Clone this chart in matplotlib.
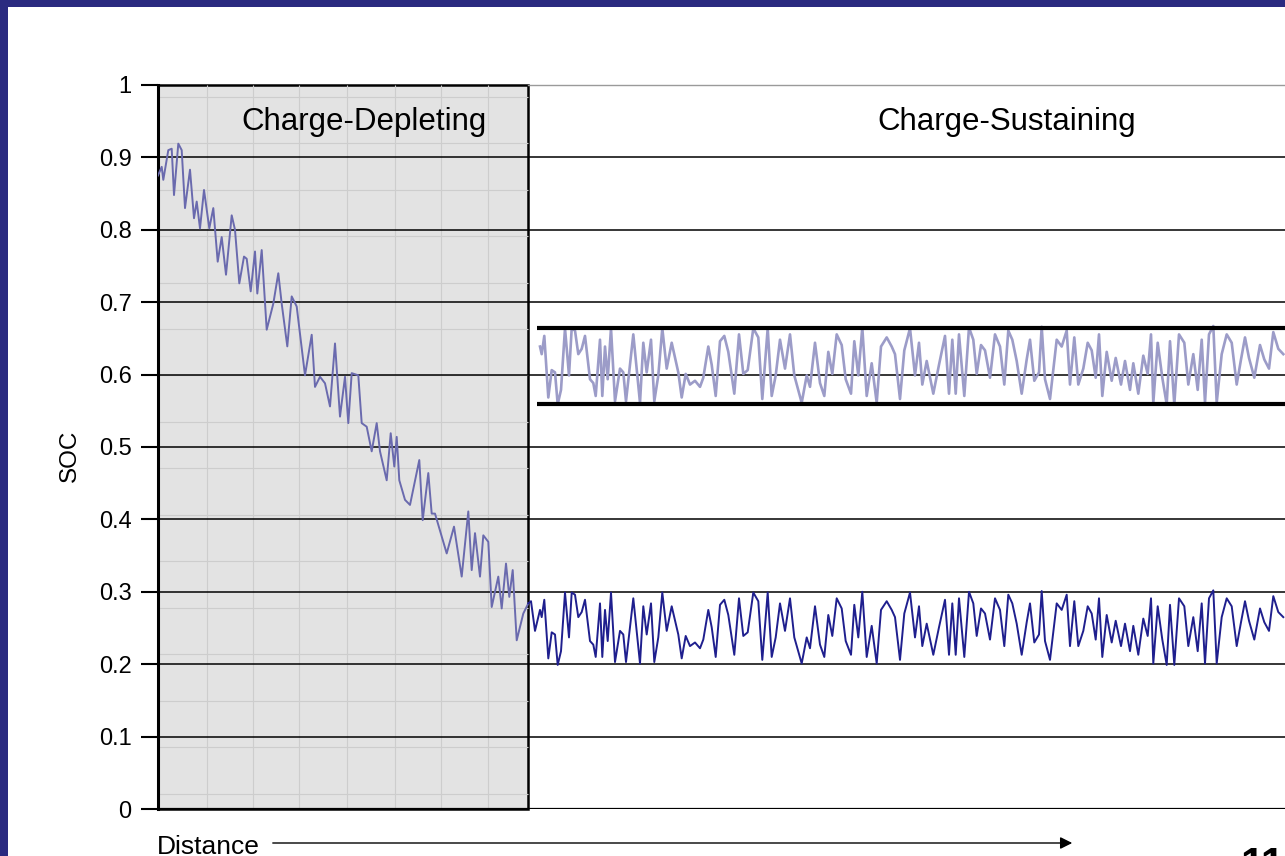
import numpy as np
import matplotlib
matplotlib.use('Agg')
import matplotlib.pyplot as plt
from matplotlib.patches import Rectangle

plt.rcParams['font.family'] = ['Liberation Sans', 'DejaVu Sans']

# charge-depleting part (distance in arbitrary km, SOC 0..1)
cd_km = [0.0, 0.37, 0.53, 1.03, 1.37, 1.6, 2.03, 2.37, 2.7, 3.2, 3.6, 3.87, 4.2, 4.6, 5.13, 5.53,
         5.97, 6.37, 6.8, 7.37, 7.7, 8.13, 8.6, 8.87, 9.27, 9.7, 9.93, 10.37, 10.87, 11.53, 12.03,
         12.37, 12.93, 13.37, 13.87, 14.7, 15.37, 15.7, 16.2, 16.7, 17.2, 17.7, 18.2, 18.7, 19.03,
         19.37, 20.03, 20.37, 20.87, 21.37, 21.87, 22.2, 22.87, 23.27, 23.63, 23.87, 24.13, 24.7,
         25.2, 26.13, 26.47, 27.03, 27.37, 27.7, 28.87, 29.6, 30.37, 31.03, 31.37, 31.7, 32.2,
         32.53, 33.03, 33.37, 34.03, 34.37, 34.8, 35.13, 35.47, 35.87, 36.53]
cd_soc = [0.875, 0.887, 0.869, 0.910, 0.912, 0.848, 0.919, 0.910, 0.830, 0.883, 0.816, 0.839, 0.802,
          0.855, 0.802, 0.830, 0.756, 0.790, 0.738, 0.820, 0.800, 0.726, 0.763, 0.760, 0.715, 0.770,
          0.712, 0.772, 0.662, 0.698, 0.740, 0.698, 0.639, 0.708, 0.694, 0.599, 0.655, 0.583, 0.597,
          0.588, 0.556, 0.643, 0.542, 0.597, 0.533, 0.602, 0.599, 0.533, 0.528, 0.494, 0.533, 0.494,
          0.454, 0.519, 0.473, 0.514, 0.454, 0.427, 0.420, 0.482, 0.399, 0.464, 0.408, 0.408, 0.353,
          0.390, 0.321, 0.411, 0.330, 0.381, 0.321, 0.378, 0.369, 0.279, 0.321, 0.277, 0.339, 0.293,
          0.330, 0.233, 0.270]

# charge-sustaining part
cs_km = [37.03, 37.3, 37.7, 38.2, 38.37, 38.63, 39.03, 39.37, 39.7, 39.97, 40.3, 40.7, 41.1, 41.37,
         41.7, 42.03, 42.37, 42.7, 43.2, 43.53, 43.77, 44.2, 44.43, 44.7, 44.97, 45.3, 45.7, 46.2,
         46.53, 46.8, 47.53, 48.2, 48.53, 48.87, 49.3, 49.63, 50.03, 50.43, 50.87, 51.37, 52.03,
         52.37, 52.77, 53.2, 53.7, 54.2, 54.53, 55.03, 55.37, 55.77, 56.2, 56.63, 57.03, 57.63,
         58.1, 58.53, 58.97, 59.53, 60.03, 60.43, 60.97, 61.37, 61.77, 62.2,
         62.7, 63.2, 63.63, 64.37, 64.87, 65.2, 65.7, 66.2, 66.63, 67.03, 67.43, 67.87, 68.37,
         68.77, 69.3, 69.63, 70.03, 70.43, 70.87, 71.37, 71.87, 72.3, 72.87, 73.37, 73.7, 74.2,
         74.63, 75.2, 75.7, 76.1, 76.43, 76.87, 77.53, 78.1, 78.7, 79.1, 79.43, 79.77, 80.1,
         80.63, 81.1, 81.53, 81.87, 82.3, 82.7, 83.2, 83.7, 84.2, 84.63, 85.03, 85.43, 85.87,
         86.37, 86.87,
         87.2, 87.63, 88.1, 88.37, 88.7, 89.2, 89.87, 90.37, 90.87, 91.2, 91.63, 92.03, 92.53,
         92.97, 93.37, 93.77, 94.1, 94.43, 94.87, 95.37, 95.77, 96.3, 96.7, 97.2, 97.53, 98.03,
         98.53, 98.97, 99.3, 99.53, 99.97, 100.43, 100.87, 101.2, 101.63, 102.1, 102.63, 103.03,
         103.53, 103.97, 104.37, 104.7, 105.1, 105.53, 105.87, 106.37, 106.87, 107.37, 107.87,
         108.3, 108.7, 109.1, 109.63, 110.2, 110.63, 111.1, 111.53, 112.03, 112.53]
cs_soc = [0.284, 0.287, 0.246, 0.275, 0.265, 0.289, 0.208, 0.244, 0.241, 0.199, 0.218, 0.299, 0.237,
          0.299, 0.296, 0.265, 0.272, 0.289, 0.232, 0.227, 0.210, 0.284, 0.210, 0.275, 0.232, 0.299,
          0.203, 0.246, 0.241, 0.203, 0.291, 0.201, 0.280, 0.241, 0.284, 0.203, 0.237, 0.299, 0.246,
          0.280, 0.241, 0.208, 0.239, 0.225, 0.230, 0.222, 0.234, 0.275, 0.251, 0.210, 0.282, 0.289,
          0.268, 0.213, 0.291, 0.239, 0.244, 0.299, 0.287, 0.206, 0.299, 0.210, 0.237, 0.284,
          0.246, 0.291, 0.237, 0.201, 0.237, 0.222, 0.280, 0.227, 0.210, 0.268, 0.239, 0.291, 0.277,
          0.232, 0.213, 0.282, 0.237, 0.300, 0.210, 0.253, 0.201, 0.275, 0.287, 0.275, 0.265, 0.206,
          0.270, 0.299, 0.237, 0.280, 0.225, 0.256, 0.213, 0.251, 0.289, 0.213, 0.284, 0.213, 0.291,
          0.210, 0.300, 0.284, 0.239, 0.277, 0.270, 0.234, 0.291, 0.275, 0.225, 0.296, 0.284, 0.256,
          0.213, 0.258,
          0.284, 0.230, 0.241, 0.301, 0.232, 0.206, 0.284, 0.275, 0.296, 0.225, 0.287, 0.225, 0.246,
          0.280, 0.270, 0.234, 0.291, 0.210, 0.268, 0.230, 0.260, 0.225, 0.256, 0.218, 0.253, 0.213,
          0.263, 0.239, 0.291, 0.201, 0.280, 0.234, 0.199, 0.282, 0.199, 0.291, 0.280, 0.225, 0.265,
          0.218, 0.284, 0.201, 0.291, 0.302, 0.201, 0.265, 0.291, 0.280, 0.225, 0.258, 0.287, 0.260,
          0.234, 0.277, 0.258, 0.246, 0.294, 0.272, 0.265]

cd_end = 37.0          # end of charge-depleting zone
band_start = 37.9      # upper (raised) copy of the CS window starts here
band_low, band_high = 0.56, 0.665
y_ticks = [0, 0.1, 0.2, 0.3, 0.4, 0.5, 0.6, 0.7, 0.8, 0.9, 1.0]
y_labels = ['0', '0.1', '0.2', '0.3', '0.4', '0.5', '0.6', '0.7', '0.8', '0.9', '1']

fig = plt.figure(figsize=(12.85, 8.56), dpi=100)
fig.patch.set_facecolor('#2a2a80')
fig.patches.append(Rectangle((8 / 1285, 0), 1, 849 / 856, transform=fig.transFigure,
                             facecolor='white', edgecolor='none', zorder=-1))

ax = fig.add_axes([158 / 1285, 47 / 856, 1150 / 1285, 724 / 856])
ax.set_facecolor('none')
ax.set_xlim(0, 115)
ax.set_ylim(0, 1)

# shaded charge-depleting block with its fine grid
ax.add_patch(Rectangle((0, 0), cd_end, 1, facecolor='#e3e3e3', edgecolor='black',
                       lw=1.8, zorder=0.5, clip_on=False))
minor_x = [4.9, 9.5, 14.1, 18.9, 23.7, 28.3, 33.0]
ax.vlines(minor_x, 0, 1, color='#cdcdcd', lw=0.8, zorder=0.6)
ax.hlines(np.arange(0.021, 1, 0.0642), 0, cd_end, color='#cdcdcd', lw=0.8, zorder=0.6)

for v in y_ticks[1:-1]:
    ax.axhline(v, color='black', lw=1.1, zorder=1)
ax.axhline(0, color='black', lw=1.6, zorder=1)
ax.plot([cd_end, 115], [1, 1], color='#9a9a9a', lw=1, clip_on=False, zorder=1)

# SOC traces
ax.plot(cd_km + [cs_km[0]], cd_soc + [cs_soc[0]], color='#6a6aae', lw=1.4, zorder=3)
ax.plot(cs_km, cs_soc, color='#1f1f8e', lw=1.4, zorder=3)
km = np.array(cs_km)
soc = np.array(cs_soc)
keep = km >= band_start
ax.plot(km[keep], band_low + (soc[keep] - 0.2) * (band_high - band_low) / 0.1,
        color='#9c9cc8', lw=1.9, zorder=3)
ax.hlines([band_high, band_low], band_start, 115, color='black', lw=3, zorder=4)

ax.text(36.6 / 2 + 2.3, 0.949, 'Charge-Depleting', ha='center', va='center', fontsize=22.5, zorder=5)
ax.text(84.9, 0.949, 'Charge-Sustaining', ha='center', va='center', fontsize=22.5, zorder=5)

for s in ['top', 'right', 'bottom']:
    ax.spines[s].set_visible(False)
ax.spines['left'].set_linewidth(2.2)
ax.set_xticks([])
ax.set_yticks(y_ticks)
ax.set_yticklabels(y_labels)
ax.tick_params(axis='y', length=12, width=1.5, labelsize=17, pad=7)

fig.text(70 / 1285, 1 - 456 / 856, 'SOC', rotation=90, ha='center', va='center', fontsize=17.5)
fig.text(157 / 1285, 1 - 854 / 856, 'Distance', ha='left', va='baseline', fontsize=19)
ax.annotate('', xy=(1075, 13), xytext=(270, 13), xycoords='figure pixels',
            arrowprops=dict(arrowstyle='-|>', color='black', lw=1, mutation_scale=18))
fig.text(1262 / 1285, 1 - 846 / 856, '11', ha='center', va='top', fontsize=30,
         fontweight='bold')

fig.savefig('out.png', dpi=100)
